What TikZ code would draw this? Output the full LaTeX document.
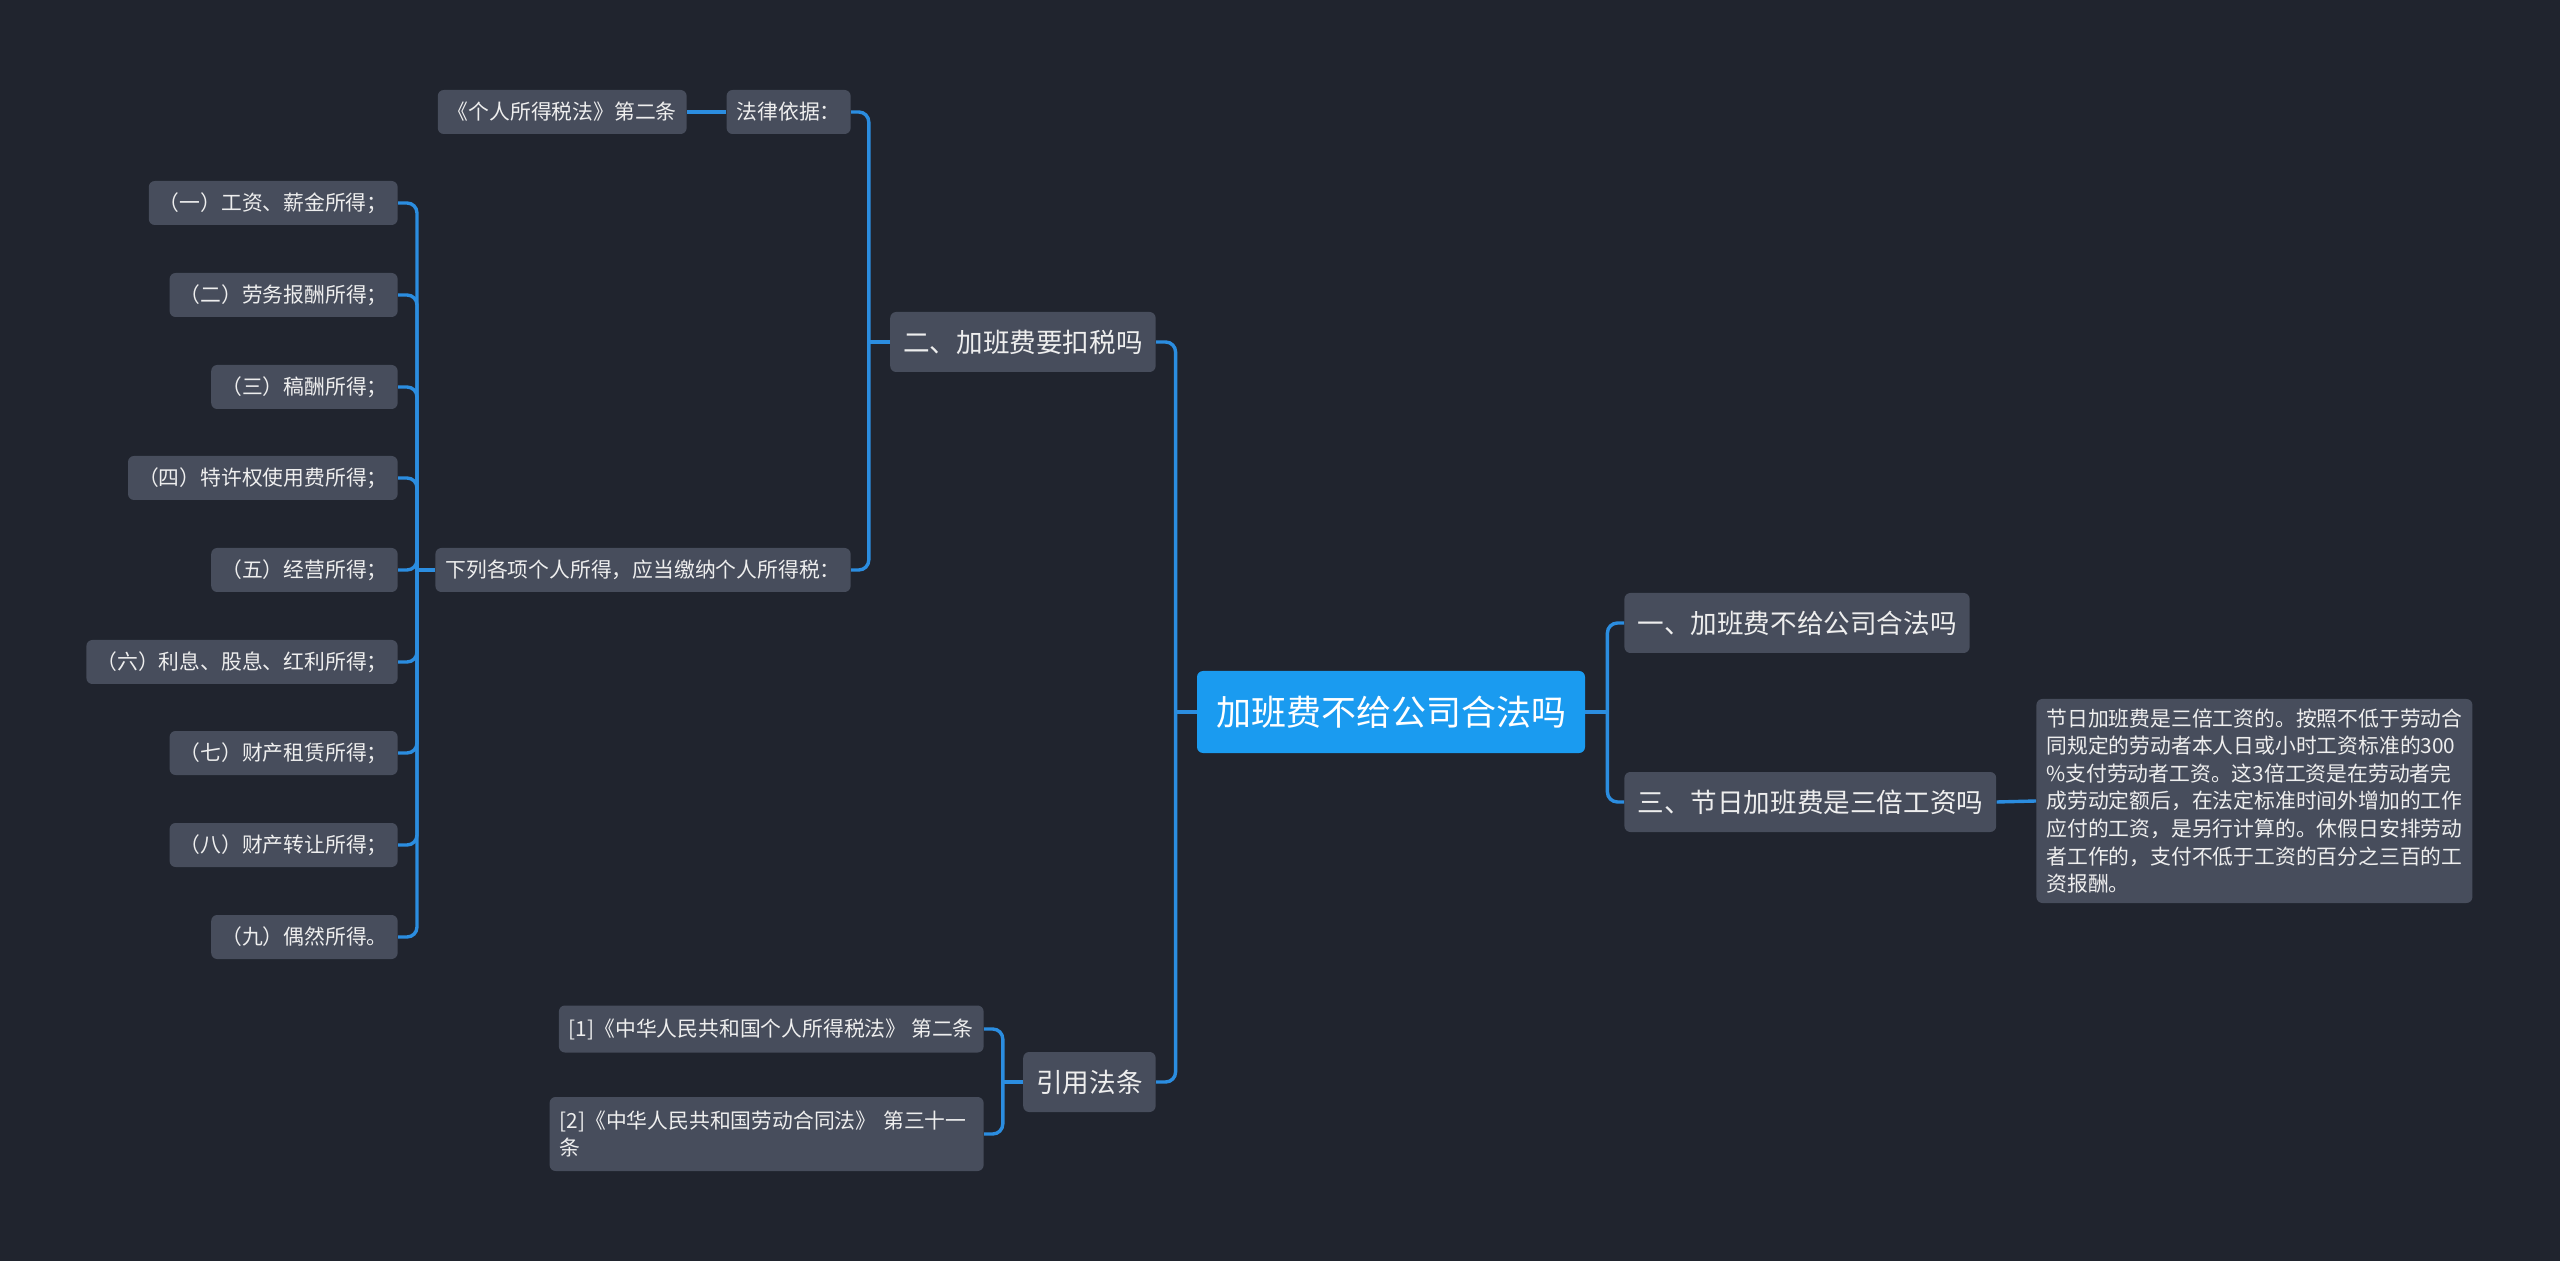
\documentclass[tikz,border=0pt]{standalone}
\usepackage{fontspec}
\setmainfont{Noto Sans CJK SC}
\definecolor{bg}{HTML}{20242E}
\definecolor{nodefill}{HTML}{474D5C}
\definecolor{rootfill}{HTML}{1A9BF0}
\definecolor{linec}{HTML}{2B8DE0}
\definecolor{txt}{HTML}{EEEEEE}
\begin{document}
\begin{tikzpicture}[x=0.5pt,y=-0.5pt,
 box/.style={fill=nodefill, rounded corners=3pt, text=txt, inner ysep=0pt},
 rootbox/.style={fill=rootfill, rounded corners=3pt, text=white, font=\fontsize{17.5pt}{21pt}\selectfont, minimum height=41pt, inner xsep=9.5pt},
 lone/.style={box, font=\fontsize{13.3pt}{16pt}\selectfont, minimum height=30pt, inner xsep=6.5pt},
 ltwo/.style={box, font=\fontsize{10.4pt}{13.8pt}\selectfont, minimum height=22pt, inner xsep=5pt},
 stub/.style={draw=linec, line width=1.7pt},
 conn/.style={draw=linec, line width=1.7pt, rounded corners=5pt}]
\fill[bg] (0,0) rectangle (2560,1261);
\useasboundingbox (0,0) rectangle (2560,1261);

\node[rootbox] (root) at (1391,712) {加班费不给公司合法吗};
\node[lone, anchor=west] (a1) at (1624,623) {一、加班费不给公司合法吗};
\node[lone, anchor=west] (a3) at (1624,802) {三、节日加班费是三倍工资吗};
\node[ltwo, anchor=west, align=left, text width=208pt, minimum height=102pt, inner ysep=3pt] (note) at (2036,801) {节日加班费是三倍工资的。按照不低于劳动合\\同规定的劳动者本人日或小时工资标准的300\\\%支付劳动者工资。这3倍工资是在劳动者完\\成劳动定额后，在法定标准时间外增加的工作\\应付的工资，是另行计算的。休假日安排劳动\\者工作的，支付不低于工资的百分之三百的工\\资报酬。};

\node[lone, anchor=east] (b2) at (1156,342) {二、加班费要扣税吗};
\node[lone, anchor=east] (b4) at (1156,1082) {引用法条};
\node[ltwo, anchor=east] (law) at (851,112) {法律依据：};
\node[ltwo, anchor=east] (lawsrc) at (687,112) {《个人所得税法》第二条};
\node[ltwo, anchor=east] (list) at (851,570) {下列各项个人所得，应当缴纳个人所得税：};

\node[ltwo, anchor=east] (i1) at (398,203) {（一）工资、薪金所得；};
\node[ltwo, anchor=east] (i2) at (398,295) {（二）劳务报酬所得；};
\node[ltwo, anchor=east] (i3) at (398,387) {（三）稿酬所得；};
\node[ltwo, anchor=east] (i4) at (398,478) {（四）特许权使用费所得；};
\node[ltwo, anchor=east] (i5) at (398,570) {（五）经营所得；};
\node[ltwo, anchor=east] (i6) at (398,662) {（六）利息、股息、红利所得；};
\node[ltwo, anchor=east] (i7) at (398,753) {（七）财产租赁所得；};
\node[ltwo, anchor=east] (i8) at (398,845) {（八）财产转让所得；};
\node[ltwo, anchor=east] (i9) at (398,937) {（九）偶然所得。};

\node[ltwo, anchor=east, minimum height=23.5pt] (r1) at (984,1029) {[1]《中华人民共和国个人所得税法》 第二条};
\node[ltwo, anchor=east, align=left, text width=207pt, minimum height=37pt] (r2) at (984,1134) {[2]《中华人民共和国劳动合同法》 第三十一\\条};

% stubs from parents to their spines
\draw[stub] (root.west) -- ++(-21,0) coordinate (rootL);
\draw[stub] (root.east) -- ++(22,0) coordinate (rootR);
\draw[stub] (b2.west) -- ++(-21,0) coordinate (b2L);
\draw[stub] (list.west) -- ++(-18,0) coordinate (listL);
\draw[stub] (b4.west) -- ++(-20,0) coordinate (b4L);

% spines with rounded bends into children
\draw[conn] (rootL) |- (b2.east);
\draw[conn] (rootL) |- (b4.east);
\draw[conn] (rootR) |- (a1.west);
\draw[conn] (rootR) |- (a3.west);
\draw[stub] (a3.east) -- (note.west);
\draw[conn] (b2L) |- (law.east);
\draw[conn] (b2L) |- (list.east);
\draw[stub] (law.west) -- (lawsrc.east);
\foreach \i in {1,...,9} {\draw[conn] (listL) |- (i\i.east);}
\draw[conn] (b4L) |- (r1.east);
\draw[conn] (b4L) |- (r2.east);
\end{tikzpicture}
\end{document}
